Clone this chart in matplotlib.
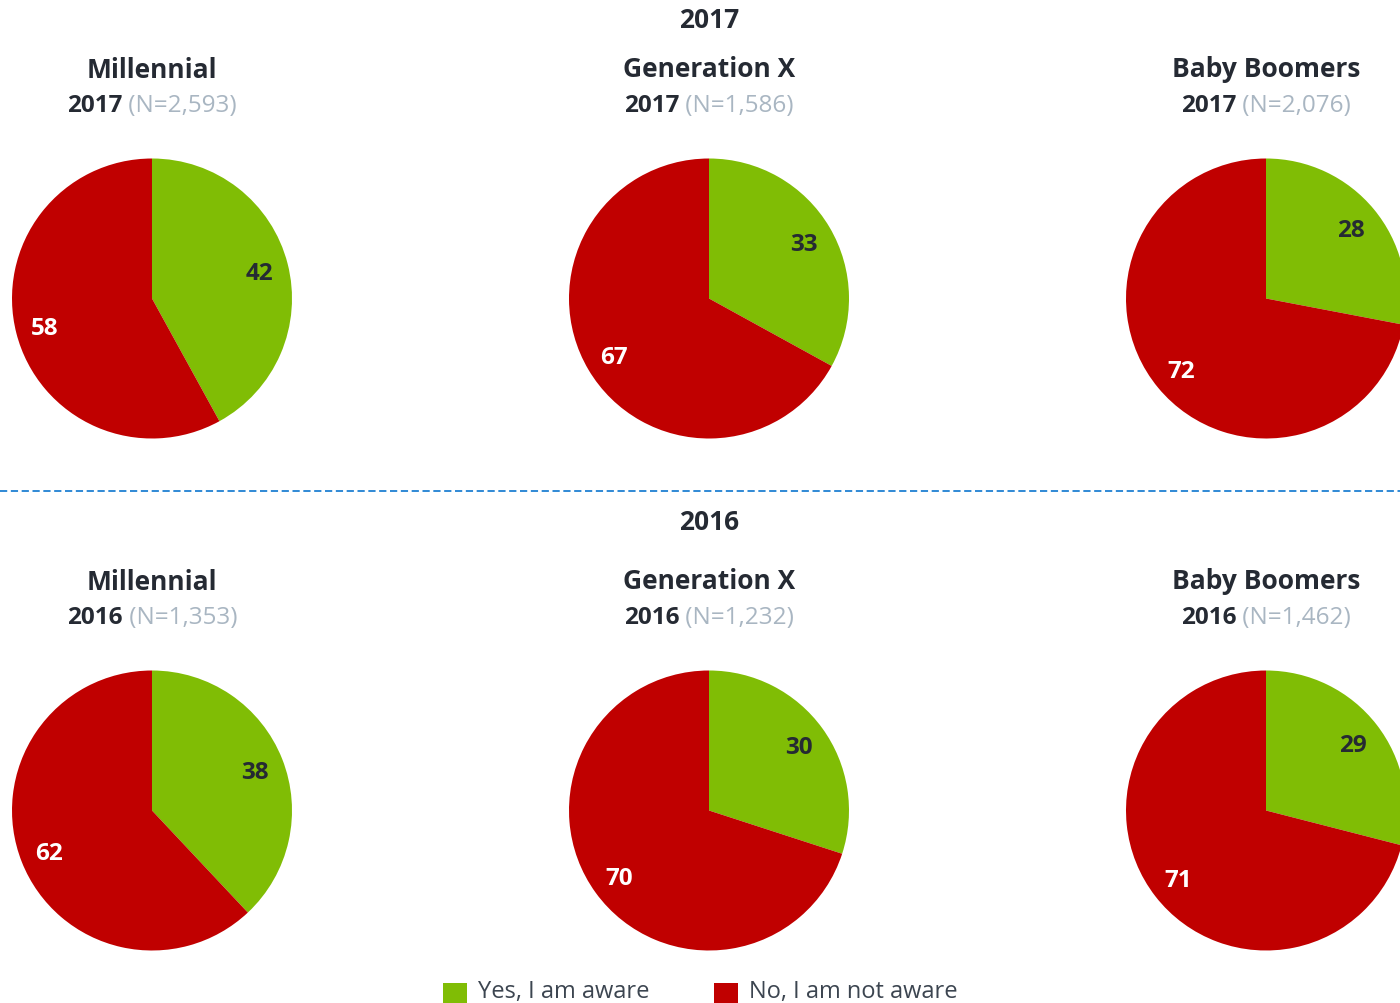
import matplotlib
matplotlib.use("Agg")
import matplotlib.pyplot as plt
import numpy as np
from matplotlib.patches import Rectangle

plt.rcParams['font.family'] = ['Open Sans', 'DejaVu Sans']

generations = ["Millennial", "Generation X", "Baby Boomers"]
years = ["2017", "2016"]
sample_sizes = {"2017": ["2,593", "1,586", "2,076"],
                "2016": ["1,353", "1,232", "1,462"]}
aware_yes = {"2017": [42, 33, 28], "2016": [38, 30, 29]}
aware_no = {"2017": [58, 67, 72], "2016": [62, 70, 71]}
legend_labels = ["Yes, I am aware", "No, I am not aware"]

GREEN = "#80bd05"
RED = "#c00000"
DARK = "#252a33"
GREY = "#a9b6c2"
LINE = "#1f80d2"

W, H = 1400, 1004
SHIFT = 1.5
fig = plt.figure(figsize=(W / 100, H / 100), dpi=100)
ax = fig.add_axes([0, 0, 1, 1])
ax.set_aspect("equal")
ax.axis("off")

col_x = [152, 709, 1266]
row_top = {"2017": 0, "2016": 512}
header_y = {"2017": 19, "2016": 521}
radius = 140

renderer = fig.canvas.get_renderer()


def mixed_line(x, y, parts, size):
    """Draw a centred line made of differently styled pieces."""
    texts = []
    for s, color, weight in parts:
        t = ax.text(0, H - y, s, fontsize=size, color=color, fontweight=weight,
                    ha="left", va="center")
        texts.append(t)
    widths = [t.get_window_extent(renderer).width for t in texts]
    cur = x - sum(widths) / 2
    for t, w in zip(texts, widths):
        t.set_x(cur)
        cur += w


for year in years:
    off = row_top[year]
    ax.text(709, H - header_y[year], year, fontsize=19, fontweight="bold",
            color=DARK, ha="center", va="center")
    for i, gen in enumerate(generations):
        cx = col_x[i]
        ty = 69 + off if i == 0 else 68 + off
        ax.text(cx, H - ty, gen, fontsize=19, fontweight="bold",
                color=DARK, ha="center", va="center")
        mixed_line(cx, ty + 36, [(year, DARK, "bold"),
                                 ("\u00a0(N=" + sample_sizes[year][i] + ")", GREY, "normal")], 17.5)
        cy = H - (298 + off)
        vals = [aware_yes[year][i], aware_no[year][i]]
        ax.pie(vals, colors=[GREEN, RED], startangle=90,
               counterclock=False, center=(cx, cy), radius=radius,
               wedgeprops=dict(linewidth=0))
        start = 90.0
        for v, tc in zip(vals, [DARK, "white"]):
            a = np.deg2rad(start - v / 100 * 180)
            ax.text(cx + 0.79 * radius * np.cos(a),
                    cy + 0.79 * radius * np.sin(a) - 2,
                    str(v), fontsize=17.5, fontweight="bold", color=tc,
                    ha="center", va="center")
            start -= v / 100 * 360

ax.set_xlim(0, W)
ax.set_ylim(SHIFT, H + SHIFT)

# separator between the two survey years
ax.plot([0, W], [H - 490, H - 490], color=LINE, linewidth=1.3,
        linestyle=(0, (4, 2)))

# legend
for x0, lab, c in [(443, legend_labels[0], GREEN), (714, legend_labels[1], RED)]:
    ax.add_patch(Rectangle((x0, 0), 24, 22, facecolor=c, edgecolor="none"))
    ax.text(x0 + 35, H - 991, lab, fontsize=17, color="#3c4550",
            ha="left", va="center")

fig.savefig("out.png", dpi=100)
